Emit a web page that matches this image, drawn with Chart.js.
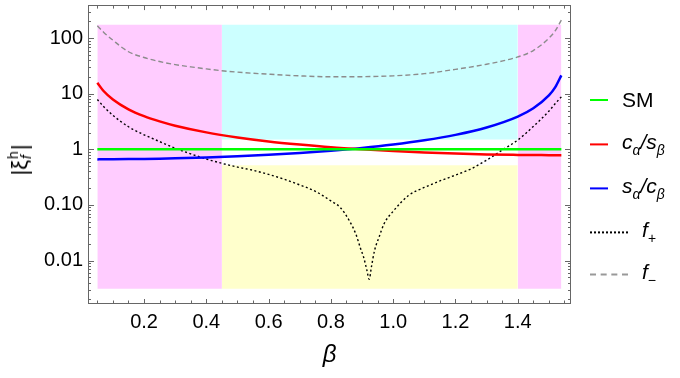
<!DOCTYPE html>
<html>
<head>
<meta charset="utf-8">
<script src="https://cdn.jsdelivr.net/npm/chart.js@4.4.1/dist/chart.umd.min.js"></script>
<style>
body{margin:0;background:#fff;}
#wrap{position:relative;width:680px;height:378px;font-family:"Liberation Sans",Arial,sans-serif;color:#000;}
#c{position:absolute;left:0;top:0;}
.ytitle{position:absolute;left:20px;top:160px;transform:translate(-50%,-50%) rotate(-90deg);font-size:22px;white-space:nowrap;display:flex;align-items:center;}
.ss{display:inline-flex;flex-direction:column;font-size:14px;line-height:13px;margin-left:1px;margin-right:1px;}
.leg{position:absolute;left:590px;transform:translateY(-50%);display:flex;align-items:center;font-size:21px;white-space:nowrap;}
.leg .ln{display:inline-block;height:0;margin-right:14px;}
.leg i sub{font-size:14px;}
</style>
</head>
<body>
<div id="wrap">
<canvas id="c" width="680" height="378"></canvas>
<div class="ytitle"><span>|ξ</span><span class="ss"><span>h</span><span><i>f</i></span></span><span>|</span></div>
<div class="leg" style="top:100px"><span class="ln" style="width:18px;border-top:2px solid #00ff00"></span><span>SM</span></div>
<div class="leg" style="top:144px"><span class="ln" style="width:18px;border-top:2px solid #ff0000"></span><i>c<sub>α</sub>/s<sub>β</sub></i></div>
<div class="leg" style="top:188px"><span class="ln" style="width:18px;border-top:2px solid #0000ff"></span><i>s<sub>α</sub>/c<sub>β</sub></i></div>
<div class="leg" style="top:232px"><span class="ln" style="width:38px;border-top:2px dotted #000"></span><i>f<sub>+</sub></i></div>
<div class="leg" style="top:274px"><span class="ln" style="width:38px;border-top:2px dashed #999"></span><i>f<sub>−</sub></i></div>
</div>
<script>
// beta values and curves
const rbBeta = [0.05,0.07,0.1,0.15,0.2,0.25,0.3,0.4,0.5,0.6,0.7,0.8,0.9,1.0,1.1,1.2,1.3,1.4,1.45,1.5,1.52,1.54];
const redVals = [15.8,11.2,7.9,5.25,3.95,3.18,2.66,2.02,1.64,1.39,1.22,1.09,1.0,0.93,0.88,0.84,0.81,0.795,0.79,0.787,0.786,0.786];
const blueVals = [0.66,0.662,0.664,0.668,0.673,0.68,0.69,0.717,0.752,0.80,0.863,0.947,1.06,1.22,1.455,1.82,2.47,3.88,5.48,9.33,13.0,21.4];

const smBeta = [0.05,1.54];
const smVals = [1,1];

const fpBeta = [0.05,0.07,0.1,0.15,0.2,0.25,0.3,0.35,0.4,0.45,0.5,0.55,0.6,0.65,0.7,0.75,0.8,0.83,0.86,0.88,0.895,0.905,0.915,0.923,0.93,0.94,0.955,0.97,1.0,1.05,1.1,1.15,1.2,1.25,1.3,1.35,1.4,1.45,1.5,1.52,1.54];
const fpVals = [7.9,5.9,4.1,2.55,1.83,1.38,1.05,0.83,0.67,0.56,0.48,0.42,0.354,0.29,0.229,0.176,0.118,0.09,0.051,0.030,0.0166,0.0115,0.0069,0.0046,0.0076,0.015,0.0266,0.045,0.077,0.149,0.206,0.27,0.344,0.446,0.64,0.97,1.47,2.58,4.87,6.6,8.8];

const fmBeta = [0.05,0.07,0.1,0.15,0.2,0.25,0.3,0.35,0.4,0.45,0.5,0.6,0.7,0.8,0.9,1.0,1.1,1.2,1.3,1.4,1.45,1.5,1.52,1.54];
const fmVals = [167,128,92,57,45,38,33.5,30.5,28,26,24.5,22.5,21,20.2,20.3,21,23,27.5,34,46,60,100,135,211];

// shaded bands: beta range and |xi| range
const bandBeta = [[0.05,0.45],[0.45,1.4],[0.45,1.4],[1.4,1.54]];
const bandY = [[0.0031,174],[1.5,174],[0.0031,0.52],[0.0031,174]];
const bandColors = ['#ffccff','#ccffff','#ffffcc','#ffccff'];

const xTickVals = [0.2,0.4,0.6,0.8,1.0,1.2,1.4];
const yTickVals = [0.01,0.1,1,10,100];
const yTickText = ['0.01','0.10','1','10','100'];

const pts = (xs, ys) => xs.map((x,i)=>({x:x, y:ys[i]}));

const bands = bandBeta.map((b,i)=>({
    label:'band'+i,
    data:[{x:b[0],y:bandY[i][1]},{x:b[1],y:bandY[i][1]}],
    borderWidth:0,
    borderColor:'rgba(0,0,0,0)',
    backgroundColor:bandColors[i],
    pointRadius:0,
    fill:{value:bandY[i][0]}
}));

const curve = (label, xs, ys, color, width, dash) => ({
    label:label,
    data:pts(xs,ys),
    borderColor:color,
    borderWidth:width,
    borderDash:dash,
    pointRadius:0,
    fill:false,
    cubicInterpolationMode:'monotone'
});

const frameTicks = {
    id:'frameTicks',
    afterDraw(chart){
        const {ctx, chartArea:a, scales:{x,y}} = chart;
        ctx.save();
        ctx.strokeStyle = '#666';
        ctx.lineWidth = 1;
        ctx.beginPath();
        for(let k=1;k<=31;k++){
            const v = k*0.05;
            if(v < x.min || v > x.max) continue;
            const px = Math.round(x.getPixelForValue(v)) + 0.5;
            const len = (k%4===0) ? 5 : 3.5;
            ctx.moveTo(px,a.bottom); ctx.lineTo(px,a.bottom-len);
            ctx.moveTo(px,a.top); ctx.lineTo(px,a.top+len);
        }
        for(let e=-3;e<=2;e++){
            for(let m=1;m<=9;m++){
                const v = m*Math.pow(10,e);
                if(v < y.min || v > y.max) continue;
                const py = Math.round(y.getPixelForValue(v)) + 0.5;
                const len = (m===1) ? 6 : 3;
                ctx.moveTo(a.left,py); ctx.lineTo(a.left+len,py);
                ctx.moveTo(a.right,py); ctx.lineTo(a.right-len,py);
            }
        }
        ctx.stroke();
        ctx.strokeRect(Math.round(a.left)+0.5, Math.round(a.top)+0.5, Math.round(a.width)-1, Math.round(a.height)-1);
        ctx.restore();
    }
};

const ctx = document.getElementById('c').getContext('2d');

const chart = new Chart(ctx,{
    type:'line',
    data:{
        datasets:[
            curve('SM', smBeta, smVals, '#00ff00', 2.5, []),
            curve('c/s', rbBeta, redVals, '#ff0000', 2.5, []),
            curve('s/c', rbBeta, blueVals, '#0000ff', 2.5, []),
            curve('f+', fpBeta, fpVals, '#000000', 1.4, [2,2.5]),
            curve('f-', fmBeta, fmVals, '#8c8c8c', 1.4, [5,3]),
        ].concat(bands)
    },
    options:{
        responsive:false,
        animation:false,
        devicePixelRatio:1,
        layout:{padding:{left:0,right:109,top:5,bottom:0}},
        plugins:{
            legend:{display:false},
            tooltip:{enabled:false},
            filler:{drawTime:'beforeDatasetsDraw'}
        },
        scales:{
            x:{
                type:'linear',
                min:0.02,
                max:1.571,
                grid:{display:false,drawTicks:false},
                border:{display:false},
                afterBuildTicks:(s)=>{ s.ticks = xTickVals.map(v=>({value:v})); },
                afterFit:(s)=>{ s.height = 74; },
                ticks:{
                    autoSkip:false,
                    maxRotation:0,
                    padding:6,
                    color:'#000',
                    font:{family:'"Liberation Sans", Arial, sans-serif', size:20},
                    callback:(v)=>Number(v).toFixed(1)
                },
                title:{
                    display:true,
                    text:'β',
                    color:'#000',
                    padding:{top:0,bottom:8},
                    font:{family:'"Liberation Sans", Arial, sans-serif', size:24, style:'italic'}
                }
            },
            y:{
                type:'logarithmic',
                min:0.00165,
                max:394,
                grid:{display:false,drawTicks:false},
                border:{display:false},
                afterBuildTicks:(s)=>{ s.ticks = yTickVals.map(v=>({value:v})); },
                afterFit:(s)=>{ s.width = 88; },
                ticks:{
                    autoSkip:false,
                    padding:5,
                    color:'#000',
                    font:{family:'"Liberation Sans", Arial, sans-serif', size:20, lineHeight:0.01},
                    callback:(v)=>yTickText[yTickVals.indexOf(v)]
                }
            }
        }
    },
    plugins:[frameTicks]
});
</script>
</body>
</html>
